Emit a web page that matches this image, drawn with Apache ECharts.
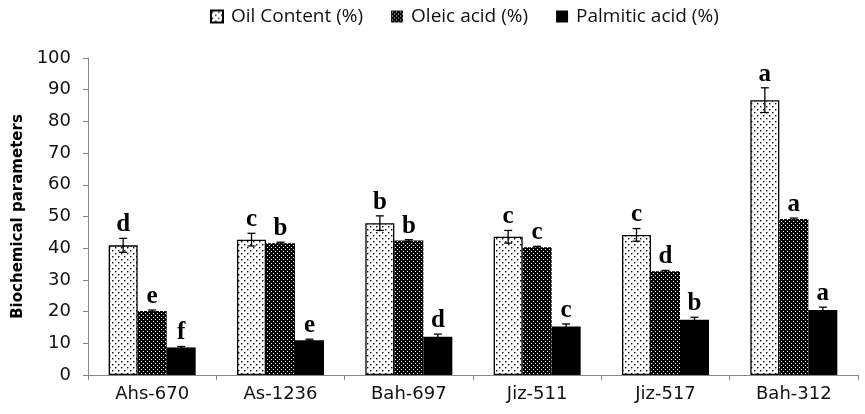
<!DOCTYPE html>
<html>
<head>
<meta charset="utf-8">
<script src="https://cdn.jsdelivr.net/npm/echarts/dist/echarts.min.js"></script>
<style>
  html, body { margin: 0; padding: 0; background: #fff; }
  #chart { width: 865px; height: 414px; }
</style>
</head>
<body>
<div id="chart"></div>
<script>
// values
const lines = ['Ahs-670', 'As-1236', 'Bah-697', 'Jiz-511', 'Jiz-517', 'Bah-312'];
const oilContent = [40.9, 42.7, 47.9, 43.6, 44.2, 86.7];
const oilErr = [2.2, 2.0, 2.3, 2.0, 2.0, 3.9];
const oleicAcid = [20.2, 41.6, 42.4, 40.3, 32.7, 49.2];
const oleicErr = [0.3, 0.3, 0.3, 0.3, 0.3, 0.3];
const palmiticAcid = [8.7, 11.0, 12.1, 15.3, 17.4, 20.5];
const palmiticErr = [0.3, 0.3, 0.8, 0.8, 0.8, 0.9];
const oilLetters = ['d', 'c', 'b', 'c', 'c', 'a'];
const oleicLetters = ['e', 'b', 'b', 'c', 'd', 'a'];
const palmiticLetters = ['f', 'e', 'd', 'c', 'b', 'a'];
const yTicks = [0, 100, 10];

const letterSets = [oilLetters, oleicLetters, palmiticLetters];
const BAR_W = 29;

// dotted fill for oil content
function dotPattern() {
  const c = document.createElement('canvas');
  c.width = 6; c.height = 6;
  const g = c.getContext('2d');
  g.fillStyle = '#fff';
  g.fillRect(0, 0, 6, 6);
  g.fillStyle = '#000';
  g.fillRect(1, 1, 1.4, 1.4);
  g.fillRect(4, 4, 1.4, 1.4);
  return c;
}

// dense mesh fill for oleic acid
function meshPattern() {
  const c = document.createElement('canvas');
  c.width = 4; c.height = 4;
  const g = c.getContext('2d');
  g.fillStyle = '#000';
  g.fillRect(0, 0, 4, 4);
  g.fillStyle = '#fff';
  g.fillRect(1, 1, 1, 1);
  g.fillRect(3, 3, 1, 1);
  return c;
}

function errData(vals, errs, slot) {
  return vals.map((v, i) => [i, v, errs[i], slot]);
}

function renderErr(params, api) {
  const idx = api.value(0);
  const val = api.value(1);
  const err = api.value(2);
  const slot = api.value(3);
  const letter = letterSets[slot][params.dataIndex];
  const center = api.coord([idx, val]);
  const x = center[0] + (slot - 1) * BAR_W;
  const top = api.coord([idx, val + err])[1];
  const bot = api.coord([idx, val - err])[1];
  const cap = 4;
  const line = { stroke: '#000', lineWidth: 1.3 };
  const kids = [];
  if (err > 0) {
    kids.push({ type: 'line', shape: { x1: x, y1: top, x2: x, y2: bot }, style: line });
    kids.push({ type: 'line', shape: { x1: x - cap, y1: top, x2: x + cap, y2: top }, style: line });
    kids.push({ type: 'line', shape: { x1: x - cap, y1: bot, x2: x + cap, y2: bot }, style: line });
  }
  kids.push({
    type: 'text', x: x, y: top - 1,
    style: {
      text: letter, fill: '#000', align: 'center', verticalAlign: 'bottom',
      font: 'bold 25px "Liberation Serif", "DejaVu Serif", serif'
    }
  });
  return { type: 'group', children: kids };
}

const chart = echarts.init(document.getElementById('chart'));
const fontSans = '"DejaVu Sans", sans-serif';

chart.setOption({
  animation: false,
  backgroundColor: '#fff',
  legend: {
    top: 2,
    left: 205,
    itemGap: 28,
    itemWidth: 12,
    itemHeight: 12,
    icon: 'rect',
    data: ['Oil Content (%)', 'Oleic acid (%)', 'Palmitic acid (%)'],
    textStyle: { fontFamily: '"Open Sans", sans-serif', fontSize: 19, color: '#111', padding: [0, 0, 0, 3] }
  },
  grid: { left: 88, right: 7, top: 58, bottom: 39 },
  xAxis: {
    type: 'category',
    data: lines,
    axisLine: { lineStyle: { color: '#888', width: 1 } },
    axisTick: { show: true, length: 5, lineStyle: { color: '#888' } },
    axisLabel: { fontFamily: fontSans, fontSize: 18, color: '#111', margin: 10 }
  },
  yAxis: {
    type: 'value',
    min: yTicks[0],
    max: yTicks[1],
    interval: yTicks[2],
    name: 'Biochemical parameters',
    nameLocation: 'middle',
    nameRotate: 90,
    nameGap: 61,
    nameTextStyle: { fontFamily: fontSans, fontWeight: 'bold', fontSize: 15, color: '#000' },
    axisLine: { show: true, lineStyle: { color: '#888', width: 1 } },
    axisTick: { show: true, length: 5, lineStyle: { color: '#888' } },
    axisLabel: { fontFamily: fontSans, fontSize: 18, color: '#111', margin: 17 },
    splitLine: { show: false }
  },
  series: [
    {
      name: 'Oil Content (%)', type: 'bar', data: oilContent,
      barWidth: BAR_W, barGap: '0%',
      itemStyle: { color: { image: dotPattern(), repeat: 'repeat' }, borderColor: '#000', borderWidth: 1.3 }
    },
    {
      name: 'Oleic acid (%)', type: 'bar', data: oleicAcid,
      barWidth: BAR_W, barGap: '0%',
      itemStyle: { color: { image: meshPattern(), repeat: 'repeat' }, borderColor: '#000', borderWidth: 0 }
    },
    {
      name: 'Palmitic acid (%)', type: 'bar', data: palmiticAcid,
      barWidth: BAR_W, barGap: '0%',
      itemStyle: { color: '#000' }
    },
    { type: 'custom', renderItem: renderErr, data: errData(oilContent, oilErr, 0), z: 10, silent: true },
    { type: 'custom', renderItem: renderErr, data: errData(oleicAcid, oleicErr, 1), z: 10, silent: true },
    { type: 'custom', renderItem: renderErr, data: errData(palmiticAcid, palmiticErr, 2), z: 10, silent: true }
  ]
});
</script>
</body>
</html>
